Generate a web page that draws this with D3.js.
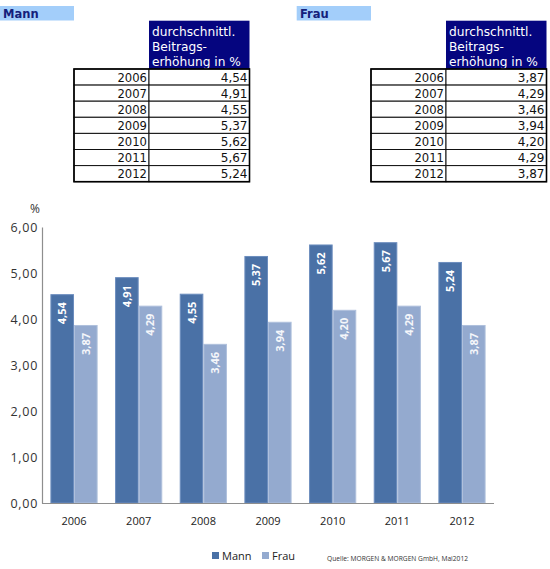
<!DOCTYPE html>
<html>
<head>
<meta charset="utf-8">
<script src="https://cdnjs.cloudflare.com/ajax/libs/d3/7.8.5/d3.min.js"></script>
<style>
  html, body { margin: 0; padding: 0; background: #fff; }
  svg { display: block; }
</style>
</head>
<body>
<svg id="chart" width="550" height="569"></svg>
<script>
const years = ["2006", "2007", "2008", "2009", "2010", "2011", "2012"];
const mann = [4.54, 4.91, 4.55, 5.37, 5.62, 5.67, 5.24];
const frau = [3.87, 4.29, 3.46, 3.94, 4.20, 4.29, 3.87];
const seriesNames = ["Mann", "Frau"];
const yTicks = [0, 1, 2, 3, 4, 5, 6];
const headerLines = ["durchschnittl.", "Beitrags-", "erhöhung in %"];
const sourceText = "Quelle: MORGEN & MORGEN GmbH,  Mai2012";

const colors = { Mann: "#4A71A6", Frau: "#94AACF" };
const strokes = { Mann: "#6C8DBE", Frau: "#AFC0DC" };
const fmt = v => v.toFixed(2).replace(".", ",");

const svg = d3.select("#chart");

// ---------- Tables ----------
function drawTable(x0, title, values) {
  const g = svg.append("g");
  const yearW = 75, valW = 100.5, rowH = 16.1, top = 69;
  g.append("rect").attr("x", x0 - 74.3).attr("y", 6).attr("width", 74.3).attr("height", 14.5)
    .attr("fill", "#A3CEFA");
  g.append("text").attr("x", x0 - 71).attr("y", 17.8).text(title)
    .attr("font-family", "DejaVu Sans, Verdana, sans-serif").attr("font-weight", "bold")
    .attr("font-size", 11.5).attr("fill", "#14207A");
  g.append("rect").attr("x", x0 + yearW).attr("y", 20.7).attr("width", valW).attr("height", top - 20.7)
    .attr("fill", "#05057F");
  headerLines.forEach((l, i) => {
    g.append("text").attr("x", x0 + yearW + 3).attr("y", 36 + i * 15).text(l)
      .attr("font-family", "DejaVu Sans, Verdana, sans-serif").attr("font-size", 12.2)
      .attr("fill", "#ffffff");
  });
  values.forEach((v, i) => {
    const y = top + i * rowH;
    g.append("rect").attr("x", x0).attr("y", y).attr("width", yearW).attr("height", rowH)
      .attr("fill", "#fff").attr("stroke", "#111").attr("stroke-width", 1);
    g.append("rect").attr("x", x0 + yearW).attr("y", y).attr("width", valW).attr("height", rowH)
      .attr("fill", "#fff").attr("stroke", "#111").attr("stroke-width", 1);
    g.append("text").attr("x", x0 + yearW - 2).attr("y", y + 12.8).attr("text-anchor", "end")
      .text(years[i]).attr("font-family", "DejaVu Sans, Verdana, sans-serif").attr("font-size", 11.6)
      .attr("fill", "#111");
    g.append("text").attr("x", x0 + yearW + valW - 2).attr("y", y + 12.8).attr("text-anchor", "end")
      .text(fmt(v)).attr("font-family", "DejaVu Sans, Verdana, sans-serif").attr("font-size", 12)
      .attr("fill", "#111");
  });
  g.append("rect").attr("x", x0).attr("y", top).attr("width", yearW + valW).attr("height", rowH * values.length)
    .attr("fill", "none").attr("stroke", "#000").attr("stroke-width", 1.6);
}
drawTable(74, "Mann", mann);
drawTable(371, "Frau", frau);

// ---------- Bar chart ----------
const left = 42, right = 494, yTop = 227, yBot = 503;
const x0s = d3.scaleBand().domain(years).range([left, right]).paddingInner(0.27).paddingOuter(0.13);
const x1s = d3.scaleBand().domain(seriesNames).range([0, x0s.bandwidth()]);
const y = d3.scaleLinear().domain([0, 6]).range([yBot, yTop]);

const data = years.map((yr, i) => ({ year: yr, values: [
  { key: "Mann", value: mann[i] }, { key: "Frau", value: frau[i] } ] }));

const groups = svg.append("g").selectAll("g").data(data).join("g")
  .attr("transform", d => `translate(${x0s(d.year)},0)`);

groups.selectAll("rect").data(d => d.values).join("rect")
  .attr("x", d => x1s(d.key) + 0.5)
  .attr("y", d => y(d.value) + 0.5)
  .attr("width", x1s.bandwidth() - 1)
  .attr("height", d => yBot - y(d.value) - 0.5)
  .attr("fill", d => colors[d.key])
  .attr("stroke", d => strokes[d.key])
  .attr("stroke-width", 1);

groups.selectAll("text").data(d => d.values).join("text")
  .attr("transform", d => `translate(${x1s(d.key) + x1s.bandwidth() / 2 + 4},${y(d.value) + 8}) rotate(-90)`)
  .attr("text-anchor", "end")
  .attr("font-family", "Open Sans, sans-serif")
  .attr("font-weight", "bold")
  .attr("font-size", 11)
  .attr("fill", d => d.key === "Mann" ? "#ffffff" : "#F4F6FA")
  .text(d => fmt(d.value));

// axes
const yAxis = d3.axisLeft(y).tickValues(yTicks).tickSize(0).tickPadding(4).tickFormat(fmt);
const gy = svg.append("g").attr("transform", `translate(${left},0)`).call(yAxis);
gy.select(".domain").attr("stroke", "#8E8E8E").attr("stroke-width", 1.2);
gy.selectAll("text").attr("font-family", "Open Sans, sans-serif").attr("font-size", 12.5)
  .attr("letter-spacing", 0.7).attr("fill", "#333");

const xAxis = d3.axisBottom(x0s).tickSize(0).tickPadding(14);
const gx = svg.append("g").attr("transform", `translate(0,${yBot})`).call(xAxis);
gx.select(".domain").attr("stroke", "#8E8E8E").attr("stroke-width", 1.2).attr("d", `M${left},0.5H${right}`);
gx.selectAll("text").attr("font-family", "Open Sans, sans-serif").attr("font-size", 11).attr("fill", "#222");

svg.append("text").attr("x", 35).attr("y", 213).attr("text-anchor", "middle")
  .attr("font-family", "Open Sans, sans-serif").attr("font-size", 12).attr("fill", "#333").text("%");

// legend
const legendX = [212, 262];
seriesNames.forEach((s, i) => {
  svg.append("rect").attr("x", legendX[i]).attr("y", 552).attr("width", 7).attr("height", 7)
    .attr("fill", colors[s]);
  svg.append("text").attr("x", legendX[i] + 10).attr("y", 560)
    .attr("font-family", "Open Sans, sans-serif").attr("font-size", 11).attr("fill", "#222").text(s);
});
svg.append("text").attr("x", 327).attr("y", 560.5).attr("font-family", "Open Sans, sans-serif")
  .attr("font-size", 6.5).attr("textLength", 141).attr("lengthAdjust", "spacingAndGlyphs")
  .attr("fill", "#333").text(sourceText);
</script>
</body>
</html>
